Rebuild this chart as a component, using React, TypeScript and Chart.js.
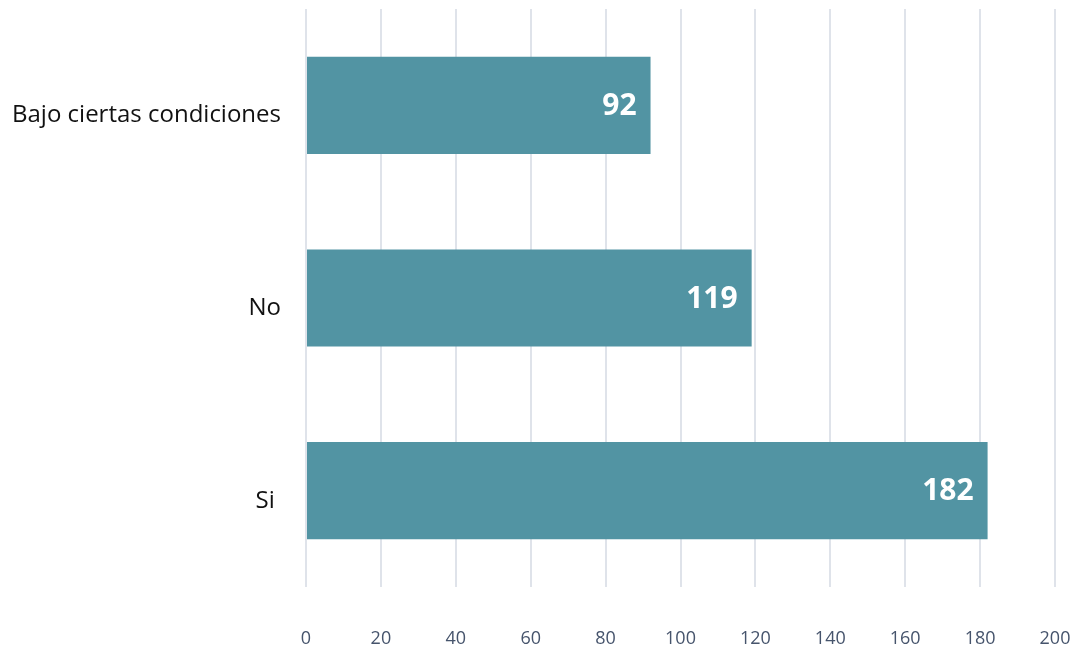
import React, { useEffect, useRef } from "react";
import { Chart, registerables } from "chart.js";

Chart.register(...registerables);

const categories = ["Bajo ciertas condiciones", "No", "Si "];
const values = [92, 119, 182];
const xTicks = [0, 20, 40, 60, 80, 100, 120, 140, 160, 180, 200];

const FONT = "'Open Sans', 'DejaVu Sans', sans-serif";

const barLabelPlugin = {
  id: "barLabels",
  afterDatasetsDraw(chart: any) {
    const ctx = chart.ctx;
    const meta = chart.getDatasetMeta(0);
    ctx.save();
    ctx.fillStyle = "#ffffff";
    ctx.font = `bold 30px ${FONT}`;
    ctx.textAlign = "right";
    ctx.textBaseline = "middle";
    meta.data.forEach((bar: any, i: number) => {
      ctx.fillText(String(values[i]), bar.x - 14, bar.y + 1);
    });
    ctx.restore();
  },
};

export default function App() {
  const ref = useRef<HTMLCanvasElement | null>(null);
  useEffect(() => {
    if (!ref.current) return;
    const chart = new Chart(ref.current, {
      type: "bar",
      data: {
        labels: categories,
        datasets: [
          {
            data: values,
            backgroundColor: "#5294a3",
            borderWidth: 0,
            categoryPercentage: 0.504,
            barPercentage: 1,
          },
        ],
      },
      options: {
        indexAxis: "y",
        animation: false,
        responsive: false,
        maintainAspectRatio: false,
        layout: { padding: { top: 9, right: 19, left: 0, bottom: 0 } },
        plugins: { legend: { display: false }, tooltip: { enabled: false } },
        scales: {
          x: {
            min: 0,
            max: 200,
            afterBuildTicks: (scale: any) => {
              scale.ticks = xTicks.map((v) => ({ value: v }));
            },
            afterFit: (scale: any) => {
              scale.height = 63;
              scale.paddingLeft = 0;
              scale.paddingRight = 0;
            },
            grid: { color: "#dfe3ea", lineWidth: 2, drawTicks: false },
            border: { display: false },
            ticks: {
              color: "#46546c",
              font: { family: FONT, size: 18 },
              padding: 41,
            },
          },
          y: {
            afterFit: (scale: any) => {
              scale.width = 306;
              scale.paddingTop = 0;
              scale.paddingBottom = 0;
            },
            grid: { display: false },
            border: { display: false },
            ticks: {
              color: "#111111",
              font: { family: FONT, size: 24 },
              padding: 17,
              labelOffset: 10,
            },
          },
        },
      },
      plugins: [barLabelPlugin],
    });
    return () => chart.destroy();
  }, []);
  return (
    <div style={{ position: "fixed", left: 0, top: 0, width: 1074, height: 650, background: "#fff" }}>
      <canvas ref={ref} width={1074} height={650} style={{ width: 1074, height: 650 }} />
    </div>
  );
}
